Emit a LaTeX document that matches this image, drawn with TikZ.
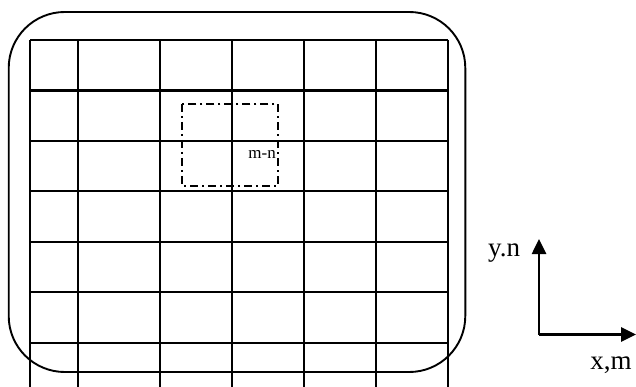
\documentclass[tikz,border=0pt]{standalone}
\usepackage{fontspec}
\setmainfont{Liberation Serif}
\usetikzlibrary{arrows.meta, positioning}

\begin{document}
\begin{tikzpicture}[
  x=1pt, y=-1pt,
  gridline/.style={line width=2.8pt},
  frame/.style={line width=1.9pt, rounded corners=56pt},
  zone/.style={line width=2pt, dash pattern=on 8pt off 4pt on 2pt off 4pt},
  axis/.style={line width=2.6pt, -{Triangle[length=15pt, width=14pt]}},
  lbl/.style={inner sep=0pt, font=\fontsize{27}{30}\selectfont}
]
\useasboundingbox (0,0) rectangle (636,387);

% grid
\foreach \gx in {30,78,160,232,304,376,448}
  \draw[gridline] (\gx,40) -- (\gx,387);
\foreach \gy in {40,90.5,141,191,242,292,343}
  \draw[gridline] (30,\gy) -- (448,\gy);

% outer boundary
\draw[frame] (8.7,12) rectangle (465.3,372);

% cell m-n window
\draw[zone] (182.3,104) rectangle (278.3,186);
\node[inner sep=0pt, anchor=base east, font=\fontsize{17}{19}\selectfont] (cell) at (276,159) {m-n};

% axes
\coordinate (origin) at (539,334.5);
\coordinate (ytip) at (539,239);
\coordinate (xtip) at (636,334.5);
\draw[axis] (origin) -- (ytip);
\draw[axis] (origin) -- (xtip);
\node[lbl, anchor=base] (ylbl) at (504,256) {y.n};
\node[lbl, anchor=base] (xlbl) at (611,369) {x,m};
\end{tikzpicture}
\end{document}
